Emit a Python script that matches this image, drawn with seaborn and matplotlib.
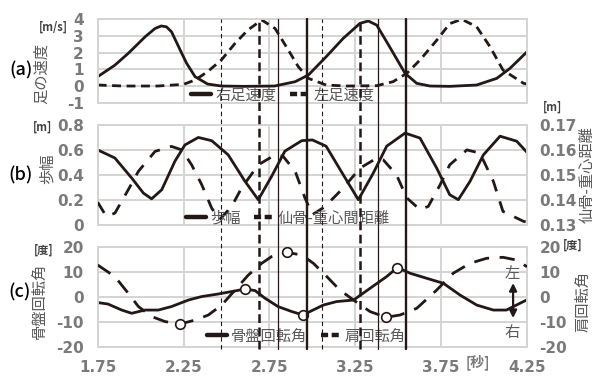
import numpy as np
import pandas as pd
import matplotlib
matplotlib.use("Agg")
import matplotlib.pyplot as plt
import seaborn as sns
from matplotlib.lines import Line2D
from matplotlib.transforms import blended_transform_factory

sns.set_theme(style="white")
plt.rcParams['font.family'] = ['Noto Sans CJK JP', 'DejaVu Sans']

# ---------------- data ----------------
# (a) foot speed [m/s]
t_right = [1.75, 1.85, 1.928, 2.026, 2.084, 2.12, 2.15, 2.18, 2.21, 2.24, 2.268, 2.317, 2.39, 2.47,
           2.60, 2.78, 2.90, 2.977, 3.08, 3.18, 3.278, 3.326, 3.375, 3.45, 3.54, 3.608, 3.685,
           3.80, 3.957, 4.074, 4.151, 4.25]
v_right = [0.56, 1.25, 1.96, 2.95, 3.45, 3.6, 3.55, 3.25, 2.6, 1.95, 1.36, 0.56, 0.12, 0.0,
           -0.02, 0.0, 0.26, 0.66, 1.75, 2.86, 3.76, 3.9, 3.65, 2.35, 0.76, 0.16, 0.0,
           -0.02, 0.06, 0.46, 1.06, 2.05]
t_left = [1.75, 1.9, 2.1, 2.25, 2.317, 2.39, 2.47, 2.55, 2.625, 2.705, 2.783, 2.86, 2.918, 2.977,
          3.08, 3.2, 3.375, 3.47, 3.55, 3.627, 3.724, 3.80, 3.87, 3.957, 4.035, 4.11, 4.23, 4.25]
v_left = [0.06, 0.0, 0.0, 0.1, 0.36, 0.86, 1.56, 2.56, 3.36, 3.96, 3.45, 2.16, 1.16, 0.46,
          0.06, 0.0, 0.02, 0.26, 0.76, 1.56, 2.74, 3.74, 4.0, 3.55, 2.35, 0.96, 0.16, 0.12]

# (b) stride [m] and sacrum-COM distance [m]
t_stride = [1.75, 1.85, 1.948, 2.016, 2.064, 2.123, 2.20, 2.258, 2.336, 2.414, 2.51, 2.608, 2.685,
            2.763, 2.84, 2.938, 3.0, 3.08, 3.18, 3.268, 3.355, 3.433, 3.54, 3.627, 3.724, 3.80,
            3.85, 3.918, 3.996, 4.093, 4.19, 4.25]
v_stride = [0.60, 0.535, 0.374, 0.253, 0.207, 0.28, 0.51, 0.64, 0.70, 0.674, 0.56, 0.347, 0.20,
            0.388, 0.59, 0.674, 0.68, 0.63, 0.40, 0.20, 0.414, 0.63, 0.735, 0.695, 0.454, 0.24,
            0.20, 0.347, 0.56, 0.71, 0.67, 0.58]
t_sacrum = [1.75, 1.80, 1.85, 1.928, 1.987, 2.084, 2.18, 2.24, 2.297, 2.356, 2.414, 2.46, 2.53,
            2.588, 2.685, 2.783, 2.83, 2.90, 2.957, 3.0, 3.06, 3.12, 3.18, 3.278, 3.375, 3.413,
            3.49, 3.55, 3.627, 3.675, 3.744, 3.80, 3.90, 3.976, 4.054, 4.11, 4.23, 4.25]
v_sacrum = [0.139, 0.1333, 0.1346, 0.144, 0.1514, 0.1594, 0.1614, 0.160, 0.154, 0.146, 0.1366,
            0.132, 0.1373, 0.1447, 0.154, 0.158, 0.1574, 0.1514, 0.1407, 0.134, 0.1366, 0.1405,
            0.1447, 0.1527, 0.1567, 0.156, 0.150, 0.1407, 0.136, 0.1373, 0.146, 0.154, 0.160,
            0.1587, 0.1474, 0.1353, 0.1313, 0.131]

# (c) pelvis / shoulder rotation [deg]
t_pelvis = [1.75, 1.81, 1.89, 1.948, 2.025, 2.103, 2.18, 2.278, 2.356, 2.45, 2.53, 2.608, 2.666,
            2.725, 2.80, 2.88, 2.947, 2.986, 3.064, 3.142, 3.24, 3.336, 3.433, 3.495, 3.57,
            3.666, 3.763, 3.86, 3.957, 4.054, 4.13, 4.25]
v_pelvis = [-2.1, -2.7, -5.1, -6.4, -5.1, -5.1, -3.7, -1.1, 0.3, 1.3, 2.3, 3.3, 2.7,
            -0.4, -3.7, -5.7, -7.1, -5.7, -3.1, -1.7, -1.1, 3.6, 8.3, 11.9, 9.6,
            7.6, 5.6, 0.9, -3.1, -5.1, -5.1, -1.0]
pelvis_marks = [11, 16, 23]
t_shoulder = [1.75, 1.85, 1.928, 1.987, 2.064, 2.142, 2.229, 2.317, 2.394, 2.472, 2.55, 2.627,
              2.705, 2.763, 2.85, 2.938, 3.006, 3.084, 3.16, 3.24, 3.336, 3.428, 3.51, 3.608,
              3.724, 3.82, 3.918, 4.015, 4.11, 4.19, 4.25]
v_shoulder = [12.9, 8.3, 1.6, -3.7, -7.7, -9.7, -10.7, -9.1, -7.1, -3.1, 2.9, 8.9,
              13.6, 16.3, 18.0, 16.9, 13.6, 8.3, 2.9, -1.1, -5.7, -8.0, -7.1, -4.4,
              2.9, 9.6, 13.6, 15.6, 16.0, 14.9, 12.2]
shoulder_marks = [6, 14, 21]

# event lines (time [s], style)
event_t = [2.47, 2.689, 2.798, 2.971, 3.055, 3.276, 3.38, 3.543]
event_style = ['thin_dash', 'thick_dash', 'thin', 'thick', 'thin_dash', 'thick_dash', 'thin', 'thick']

x_ticks = [1.75, 2.25, 2.75, 3.25, 3.75, 4.25]

# ---------------- figure ----------------
W_PX, H_PX = 599, 378
fig = plt.figure(figsize=(W_PX / 100, H_PX / 100), dpi=100)

def fx(px):
    return px / W_PX

def fy(py):
    return 1 - py / H_PX

L, R = 97.7, 527
ax_a = fig.add_axes([fx(L), fy(102.7), fx(R) - fx(L), fy(19.3) - fy(102.7)])
ax_b = fig.add_axes([fx(L), fy(224.6), fx(R) - fx(L), fy(125) - fy(224.6)])
ax_c = fig.add_axes([fx(L), fy(347.3), fx(R) - fx(L), fy(247.3) - fy(347.3)])
ax_b2 = ax_b.twinx()
ax_c2 = ax_c.twinx()

INK = '#231815'
GRID = '#d4d4d4'
TICK = '#7a7a7a'
TXT = '#595959'
tick_font = dict(family='DejaVu Sans', weight='bold', size=11, color=TICK)

def style_main(ax, ylim, yticks, ylabels, show_x=False):
    ax.set_xlim(1.75, 4.25)
    ax.set_ylim(*ylim)
    ax.set_xticks(x_ticks)
    ax.set_yticks(yticks)
    ax.set_yticklabels(ylabels, **tick_font)
    if show_x:
        ax.set_xticklabels([f"{v:.2f}" for v in x_ticks], **tick_font)
    else:
        ax.set_xticklabels([])
    ax.tick_params(axis='both', length=0)
    ax.tick_params(axis='y', pad=10)
    ax.tick_params(axis='x', pad=9)
    ax.grid(True, color=GRID, lw=1.4)
    for s in ax.spines.values():
        s.set_color(GRID)
        s.set_linewidth(1.4)
    ax.set_xlabel('')
    ax.set_ylabel('')

def style_twin(ax, ylim, yticks, ylabels):
    ax.set_ylim(*ylim)
    ax.set_yticks(yticks)
    ax.set_yticklabels(ylabels, **tick_font)
    ax.tick_params(axis='y', length=0, pad=9)
    ax.grid(False)
    for s in ax.spines.values():
        s.set_visible(False)
    ax.set_ylabel('')

def draw(ax, t, v, dashes=None, lw=2.0):
    sns.lineplot(x=t, y=v, ax=ax, color=INK, lw=lw, estimator=None, sort=False)
    ln = ax.lines[-1]
    if dashes is not None:
        ln.set_dashes(dashes)
    ln.set_dash_capstyle('butt')
    ln.set_solid_joinstyle('round')
    return ln

# (a)
draw(ax_a, t_right, v_right)
draw(ax_a, t_left, v_left, dashes=(3.2, 2.0))
style_main(ax_a, (-1, 4), [-1, 0, 1, 2, 3, 4], ['-1', '0', '1', '2', '3', '4'])

# (b)
draw(ax_b, t_stride, v_stride)
draw(ax_b2, t_sacrum, v_sacrum, dashes=(4.5, 3.8))
style_main(ax_b, (0, 0.8), [0, 0.2, 0.4, 0.6, 0.8], ['0', '0.2', '0.4', '0.6', '0.8'])
style_twin(ax_b2, (0.13, 0.17), [0.13, 0.14, 0.15, 0.16, 0.17],
           ['0.13', '0.14', '0.15', '0.16', '0.17'])

# (c)
draw(ax_c, t_pelvis, v_pelvis)
draw(ax_c2, t_shoulder, v_shoulder, dashes=(5.5, 3.8))
style_main(ax_c, (-20, 20), [-20, -10, 0, 10, 20], ['-20', '-10', '0', '10', '20'], show_x=True)
style_twin(ax_c2, (-20, 20), [-20, -10, 0, 10, 20], ['-20', '-10', '0', '10', '20'])

mk = pd.DataFrame({
    't': [t_pelvis[i] for i in pelvis_marks] + [t_shoulder[i] for i in shoulder_marks],
    'v': [v_pelvis[i] for i in pelvis_marks] + [v_shoulder[i] for i in shoulder_marks],
})
sns.scatterplot(data=mk, x='t', y='v', ax=ax_c2, s=48, color='white', edgecolor=INK,
                linewidth=1.2, zorder=5, legend=False)
ax_c2.set_xlabel('')
ax_c2.set_ylabel('')

# direction arrow
ax_c2.annotate('', xy=(4.169, -8.3), xytext=(4.169, 5.7),
               arrowprops=dict(arrowstyle='<|-|>', color=INK, lw=1.6, mutation_scale=11,
                               shrinkA=0, shrinkB=0))
ax_c2.text(4.165, 9.7, '左', ha='center', va='center', fontsize=11, color=TXT)
ax_c2.text(4.165, -13.9, '右', ha='center', va='center', fontsize=11, color=TXT)

# event lines spanning all panels
tr = blended_transform_factory(ax_c.transData, fig.transFigure)
styles = {
    'thin_dash': dict(lw=0.8, dashes=(4, 3)),
    'thick_dash': dict(lw=1.8, dashes=(3.5, 1.8)),
    'thin': dict(lw=0.9, dashes=None),
    'thick': dict(lw=1.7, dashes=None),
}
for t, st in zip(event_t, event_style):
    s = styles[st]
    ln = Line2D([t, t], [fy(348.5), fy(19.3)], transform=tr, color=INK, lw=s['lw'],
                clip_on=False, zorder=10)
    if s['dashes'] is not None:
        ln.set_dashes(s['dashes'])
    fig.add_artist(ln)

# legends
def add_legend(labels, dashes, cx, cy):
    h1 = Line2D([], [], color=INK, lw=3.2)
    h2 = Line2D([], [], color=INK, lw=3.2)
    h2.set_dashes(dashes)
    fig.legend([h1, h2], labels, loc='center', bbox_to_anchor=(fx(cx), fy(cy)),
               ncol=2, frameon=False, fontsize=11, labelcolor=TXT, handlelength=1.3,
               handletextpad=0.25, columnspacing=0.9, borderpad=0, borderaxespad=0)

add_legend(['右足速度', '左足速度'], (1.6, 0.8), 283, 95)
add_legend(['歩幅', '仙骨-重心間距離'], (1.6, 0.8), 288, 218)
add_legend(['骨盤回転角', '肩回転角'], (1.6, 0.8), 306, 336)

# y labels and panel letters
fig.text(fx(41), fy(73), '足の速度', rotation=90, ha='center', va='center', fontsize=11, color=TXT)
fig.text(fx(47), fy(169), '歩幅', rotation=90, ha='center', va='center', fontsize=11, color=TXT)
fig.text(fx(39), fy(301), '骨盤回転角', rotation=90, ha='center', va='center', fontsize=11, color=TXT)
fig.text(fx(587), fy(175), '仙骨-重心距離', rotation=90, ha='center', va='center', fontsize=11, color=TXT)
fig.text(fx(583), fy(301), '肩回転角', rotation=90, ha='center', va='center', fontsize=11, color=TXT)

for lab, x, y in [('(a)', 21, 70), ('(b)', 21, 175), ('(c)', 20, 292)]:
    fig.text(fx(x), fy(y), lab, ha='center', va='center', fontsize=13, color='black',
             weight='medium')

unit = dict(fontsize=8, color='#404040', weight='bold', ha='center', va='center')
fig.text(fx(53), fy(27), '[m/s]', **unit)
fig.text(fx(43), fy(127), '[m]', **unit)
fig.text(fx(44), fy(250), '[度]', **unit)
fig.text(fx(552), fy(107), '[m]', **unit)
fig.text(fx(573), fy(245), '[度]', **unit)
fig.text(fx(478), fy(362), '[秒]', fontsize=10, color=TICK, weight='bold', ha='center', va='center')

fig.savefig('out.png', dpi=100)
